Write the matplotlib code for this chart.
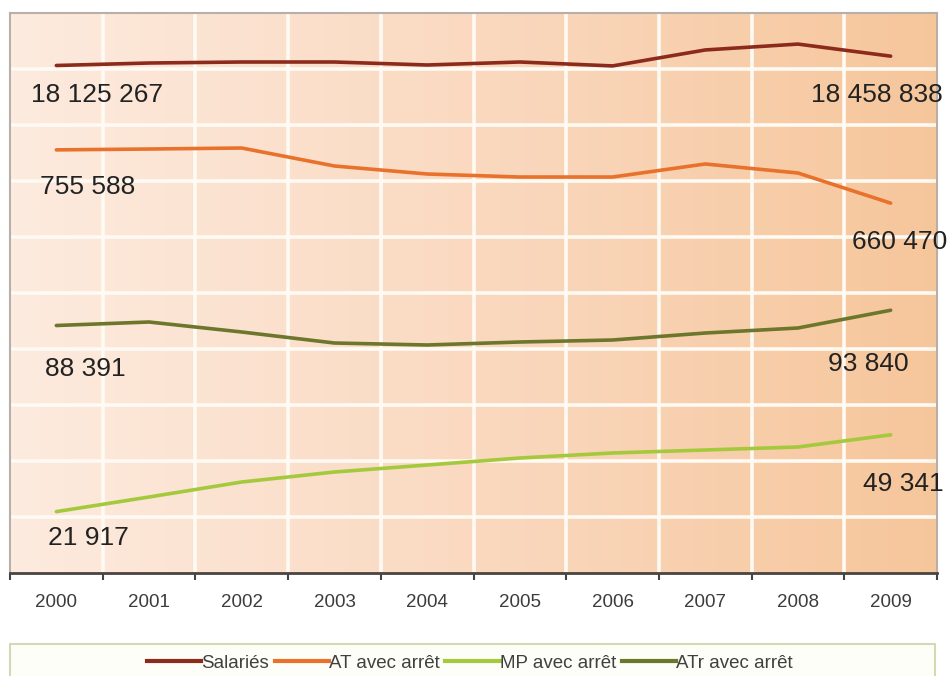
import numpy as np
import matplotlib.pyplot as plt
from matplotlib.colors import LinearSegmentedColormap
from matplotlib.lines import Line2D
from matplotlib.patches import Rectangle

plt.rcParams['font.family'] = ['Liberation Sans', 'DejaVu Sans']

# Data (2000-2009)
years = ['2000', '2001', '2002', '2003', '2004', '2005', '2006', '2007', '2008', '2009']
salaries = [18125267, 18214000, 18250000, 18250000, 18143000, 18250000, 18110000, 18680000, 18890000, 18458838]
at_avec_arret = [755588, 757100, 758900, 726800, 712500, 707100, 707100, 730400, 714300, 660470]
mp_avec_arret = [21917, 27140, 32500, 36070, 38570, 41070, 42860, 43930, 45000, 49341]
atr_avec_arret = [88391, 89640, 86070, 82140, 81430, 82500, 83210, 85710, 87500, 93840]

series_names = ['Salariés', 'AT avec arrêt', 'MP avec arrêt', 'ATr avec arrêt']

# each series has its own scale: value / unit -> band 0..10
units = {'Salariés': 2000000, 'AT avec arrêt': 100000,
         'MP avec arrêt': 20000, 'ATr avec arrêt': 20000}
colors = {'Salariés': '#8c2b1c', 'AT avec arrêt': '#e8722c',
          'MP avec arrêt': '#a5c93c', 'ATr avec arrêt': '#6c772c'}
values = {'Salariés': salaries, 'AT avec arrêt': at_avec_arret,
          'MP avec arrêt': mp_avec_arret, 'ATr avec arrêt': atr_avec_arret}

# label offsets in pixels (first point / last point)
first_off = {'Salariés': (-25, -30), 'AT avec arrêt': (-16, -37),
             'MP avec arrêt': (-8, -26), 'ATr avec arrêt': (-11, -43)}
last_off = {'Salariés': (52, -39), 'AT avec arrêt': (57, -39),
            'MP avec arrêt': (53, -49), 'ATr avec arrêt': (18, -54)}


def fmt(v):
    return f"{v:,}".replace(',', ' ')


fig = plt.figure(figsize=(9.51, 6.76), dpi=100)
fig.patch.set_facecolor('white')
ax = fig.add_axes([10 / 951, 103 / 676, 927 / 951, 560 / 676])

# background gradient, light peach on the left to orange on the right
cmap = LinearSegmentedColormap.from_list('peach', ['#fdebdf', '#fad9c0', '#f6c69b'])
grad = np.linspace(0, 1, 256).reshape(1, -1)
ax.imshow(grad, extent=(-0.5, 9.5, 0, 10), aspect='auto',
          cmap=cmap, origin='lower', zorder=0)

x = np.arange(len(years))
for k in range(1, 10):
    ax.axhline(k, color='#fffaf4', lw=2.6, zorder=1)
for k in range(1, 10):
    ax.axvline(k - 0.5, color='#fffaf4', lw=2.6, zorder=1)

for name in series_names:
    y = np.array(values[name]) / units[name]
    ax.plot(x, y, color=colors[name], lw=2.6, solid_joinstyle='round',
            solid_capstyle='round', zorder=3)
    ax.annotate(fmt(values[name][0]), xy=(x[0], y[0]), xytext=first_off[name],
                textcoords='offset pixels', ha='left', va='center',
                fontsize=19, color='#222222', zorder=4)
    ax.annotate(fmt(values[name][-1]), xy=(x[-1], y[-1]), xytext=last_off[name],
                textcoords='offset pixels', ha='right', va='center',
                fontsize=19, color='#222222', zorder=4)

ax.set_xlim(-0.5, 9.5)
ax.set_ylim(0, 10)
ax.set_yticks([])
ax.set_xticks(x)
ax.set_xticklabels(years, fontsize=13.5, color='#3c3c3c')
ax.set_xticks(np.arange(-0.5, 10, 1), minor=True)
ax.tick_params(axis='x', which='major', length=0, pad=15)
ax.tick_params(axis='x', which='minor', length=5, width=1.5, color='#444444')

for side in ['top', 'left', 'right']:
    ax.spines[side].set_color('#b8b0a8')
    ax.spines[side].set_linewidth(1.5)
ax.spines['bottom'].set_color('#4a4440')
ax.spines['bottom'].set_linewidth(2)

# legend frame runs off the bottom edge
fig.patches.append(Rectangle((10 / 951, -0.02), 925 / 951, 32 / 676 + 0.02,
                             transform=fig.transFigure, facecolor='#fefef8',
                             edgecolor='#d4d8b4', lw=1.5))
handles = [Line2D([], [], color=colors[n], lw=3) for n in series_names]
fig.legend(handles, series_names, loc='center', bbox_to_anchor=(0.494, 13 / 676),
           ncol=4, frameon=False, fontsize=13.5, handlelength=2.9,
           handletextpad=0.0, columnspacing=0.3, labelcolor='#404040')

plt.savefig('out.png', dpi=100)
